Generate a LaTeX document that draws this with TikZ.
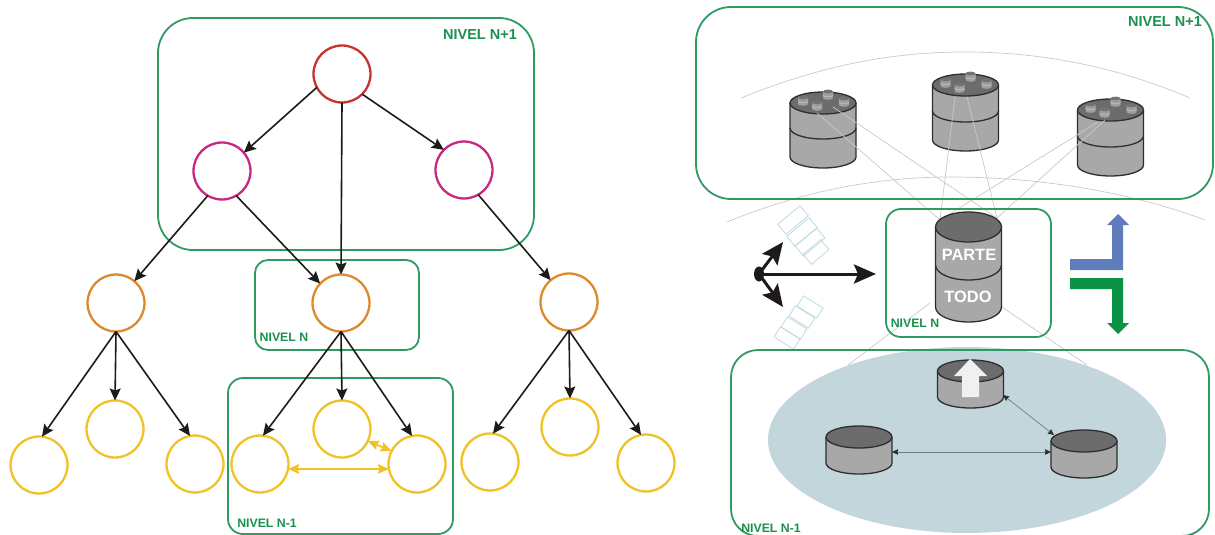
\documentclass[tikz,border=0pt]{standalone}
\usepackage{fontspec}
\setmainfont{Liberation Sans}
\usetikzlibrary{arrows.meta}
\definecolor{framegreen}{HTML}{2F9A63}
\definecolor{textgreen}{HTML}{1B9150}
\definecolor{cred}{HTML}{C8322F}
\definecolor{cmag}{HTML}{C8287E}
\definecolor{corange}{HTML}{DD8A2E}
\definecolor{cyellow}{HTML}{F0C226}
\definecolor{arrowk}{HTML}{1E1A1A}
\definecolor{cylbody}{HTML}{A8A8A8}
\definecolor{cyltop}{HTML}{6C6C6C}
\definecolor{cylline}{HTML}{2E2E2E}
\definecolor{poolblue}{HTML}{C2D6DC}
\definecolor{faint}{HTML}{C9C9C9}
\definecolor{panel}{HTML}{BDDADF}
\definecolor{upblue}{HTML}{5F7CBB}
\definecolor{downgreen}{HTML}{0A9245}
\definecolor{thingray}{HTML}{6F7F84}
\tikzset{
  frame/.style={draw=framegreen,line width=1.8pt,rounded corners=#1},
  lab/.style={text=textgreen,font=\fontsize{12.3}{14}\selectfont\bfseries,inner sep=0pt},
  biglab/.style={text=textgreen,font=\fontsize{14.5}{16}\selectfont\bfseries,inner sep=0pt},
  cyllab/.style={text=white,font=\fontsize{16.4}{18}\selectfont\bfseries,inner sep=0pt},
  ring/.style={circle,draw=#1,line width=2.3pt,minimum size=57pt,inner sep=0pt,outer sep=0pt},
  treearrow/.style={draw=arrowk,line width=1.6pt,-{Stealth[length=12pt,width=11pt,inset=2pt]}},
  yarrow/.style={draw=cyellow,line width=1.8pt,{Stealth[length=11pt,width=9.5pt,inset=1.5pt]}-{Stealth[length=11pt,width=9.5pt,inset=1.5pt]}},
  thinlink/.style={draw=faint,line width=.7pt},
  hub/.style={draw=arrowk,line width=3pt,-{Stealth[length=22pt,width=19pt,inset=4pt]}},
  thinarrow/.style={draw=thingray,line width=.7pt,{Stealth[length=6pt,width=5.5pt,inset=.5pt,color=cylline]}-{Stealth[length=6pt,width=5.5pt,inset=.5pt,color=cylline]}},
  panelbox/.style={draw=panel,line width=.8pt},
}
\newcommand\halfarc[4]{({#1-#3},#2) .. controls ({#1-#3},{#2+.5523*#4}) and ({#1-.5523*#3},{#2+#4}) .. (#1,{#2+#4}) .. controls ({#1+.5523*#3},{#2+#4}) and ({#1+#3},{#2+.5523*#4}) .. ({#1+#3},#2)}
\newcommand\cylbody[5]{%
  \fill[cylbody] ({#1-#4},#2) -- \halfarc{#1}{#3}{#4}{#5} -- ({#1+#4},#2) -- cycle;
  \draw[cylline,line width=1.3pt] ({#1-#4},#2) -- \halfarc{#1}{#3}{#4}{#5} -- ({#1+#4},#2);
  \draw[cylline,line width=1.3pt,fill=cyltop] (#1,#2) ellipse ({#4} and {#5});
}
\newcommand\cylband[4]{\draw[cylline,line width=1.3pt] \halfarc{#1}{#2}{#3}{#4};}
\newcommand\smallcyl[2]{%
  \fill[gray!75] ({#1-5},{#2-3.5}) -- \halfarc{#1}{#2+3}{5}{1.8} -- ({#1+5},{#2-3.5}) -- cycle;
  \fill[gray!90!black] (#1,{#2-3.5}) ellipse (5 and 1.9);
  \draw[gray!45,line width=.5pt] \halfarc{#1}{#2}{5}{1.8};
}
\newcommand\studs[2]{%
  \smallcyl{#1-20}{#2-2}\smallcyl{#1+5}{#2-8}\smallcyl{#1+21}{#2-1}\smallcyl{#1-6}{#2+3}%
}
\begin{document}
\begin{tikzpicture}[x=1pt,y=-1pt]
\useasboundingbox (0,0) rectangle (1215,535);

% ---------- LEFT: tree ----------
\node[ring=cred] (root) at (342,74) {};
\node[ring=cmag] (ml) at (222,171) {};
\node[ring=cmag] (mr) at (464,170) {};
\node[ring=corange] (ol) at (116,303) {};
\node[ring=corange] (oc) at (341,303) {};
\node[ring=corange] (or) at (569,302) {};
\node[ring=cyellow] (y1) at (39,465) {};
\node[ring=cyellow] (y2) at (115,429) {};
\node[ring=cyellow] (y3) at (195,464) {};
\node[ring=cyellow] (y4) at (260,464) {};
\node[ring=cyellow] (y5) at (342,429) {};
\node[ring=cyellow] (y6) at (417,464) {};
\node[ring=cyellow] (y7) at (490,462) {};
\node[ring=cyellow] (y8) at (570,427) {};
\node[ring=cyellow] (y9) at (646,463) {};

\draw[frame=35pt] (158,18) rectangle (534,250);
\draw[frame=13pt] (255,260) rectangle (419,350);
\draw[frame=15pt] (228,378) rectangle (453,534);
\node[biglab] (tn1) at (480,35) {NIVEL N+1};
\node[lab] (tn2) at (284,337) {NIVEL N};
\node[lab] (tn3) at (267,523) {NIVEL N-1};

\draw[treearrow] (root.208) -- (ml.40);
\draw[treearrow] (root.south) -- (oc.north);
\draw[treearrow] (root.-45) -- (mr.135);
\draw[treearrow] (ml.240) -- (ol.50);
\draw[treearrow] (ml.-60) -- (oc.137);
\draw[treearrow] (mr.-60) -- (or.130);
\foreach \a/\b/\e in {ol/y1/84,ol/y2/90,ol/y3/100,oc/y4/84,oc/y5/90,oc/y6/100,or/y7/84,or/y8/90,or/y9/100}
  \draw[treearrow] (\a.south) -- (\b.\e);
\draw[yarrow] (y4.-10) -- (y6.190);
\draw[yarrow] (y5.-25) -- (y6.153);

% ---------- RIGHT: background ----------
\fill[poolblue] (967,440) ellipse (199 and 93);
\draw[thinlink] (741,98) .. controls (820,66) and (890,52) .. (965,52) .. controls (1040,52) and (1115,66) .. (1190,98);
\draw[thinlink] (727,222) .. controls (800,192) and (875,177) .. (950,177) .. controls (1040,177) and (1130,192) .. (1205,220);

\coordinate (hl) at (940,220);
\coordinate (hr) at (997,218);
\coordinate (ll) at (930,303);
\coordinate (lr) at (1002,307);
\coordinate (pl) at (848,365);
\coordinate (pr) at (1087,365);

\foreach \x/\y/\w in {793/220/14.5,802/232/14.5,810/242/14,816/252/11.5}
  \draw[panelbox,shift={(\x,\y)},rotate=40] (-\w,-6.5) rectangle (\w,6.5);
\foreach \x/\y in {810/307,802/317,794/328,787/338}
  \draw[panelbox,shift={(\x,\y)},rotate=-32] (-11.5,-6) rectangle (11.5,6);

% cylinders of the upper level
\cylbody{823}{103}{157}{33}{11}\cylband{823}{128}{33}{11}\studs{823}{103}
\cylbody{965.5}{85}{140}{33}{11}\cylband{965.5}{111}{33}{11}\studs{965.5}{85}
\cylbody{1110.5}{110}{165}{33}{11}\cylband{1110.5}{136}{33}{11}\studs{1110.5}{110}

\coordinate (c1a) at (817,113);
\coordinate (c1b) at (833,107);
\coordinate (c2a) at (955,97);
\coordinate (c2b) at (967,97);
\coordinate (c3a) at (1098,122);
\coordinate (c3b) at (1105,120);
\draw[thinlink] (c1a) -- (hl);
\draw[thinlink] (c1b) -- (hr);
\draw[thinlink] (c2a) -- (hl);
\draw[thinlink] (c2b) -- (hr);
\draw[thinlink] (c3a) -- (hl);
\draw[thinlink] (c3b) -- (hr);
\draw[thinlink] (ll) -- (pl);
\draw[thinlink] (lr) -- (pr);

% frames
\draw[frame=35pt] (696,7) rectangle (1213,199);
\draw[frame=15pt] (886,209) rectangle (1051,337);
\draw[frame=27pt] (731,350) rectangle (1209,536);
\node[biglab] (tr1) at (1165,22) {NIVEL N+1};
\node[lab] (tr2) at (915,323) {NIVEL N};
\node[lab] (tr3) at (771,528) {NIVEL N-1};

% central cylinder
\cylbody{968.5}{227}{307}{33}{15}\cylband{968.5}{265}{33}{15}
\node[cyllab] (parte) at (969,255) {PARTE};
\node[cyllab] (todo) at (968,297) {TODO};

% lower cylinders
\cylbody{970.5}{371}{397}{33}{11}
\cylbody{859}{437}{463}{33}{11}
\cylbody{1084}{441}{467}{33}{11}
\fill[white!94!black] (970,359) -- (987,376) -- (979,376) -- (979,397) -- (962,397) -- (962,376) -- (954,376) -- cycle;
\coordinate (a1) at (1003,395);
\coordinate (a2) at (1054,435);
\coordinate (b1) at (892,452);
\coordinate (b2) at (1051,452);
\draw[thinarrow] (a1) -- (a2);
\draw[thinarrow] (b1) -- (b2);

% hub arrows
\coordinate (h0) at (759,274);
\coordinate (h1) at (876,274);
\coordinate (h2) at (783,242);
\coordinate (h3) at (783,307);
\draw[hub] (h0) -- (h1);
\draw[hub] (h0) -- (h2);
\draw[hub] (h0) -- (h3);
\fill[arrowk] (h0) ellipse (5 and 7.5);

% level arrows
\fill[upblue] (1070,259) -- (1112,259) -- (1112,225) -- (1107,225) -- (1118,214) -- (1129,225) -- (1123,225) -- (1123,270) -- (1070,270) -- cycle;
\fill[downgreen] (1070,278) -- (1123,278) -- (1123,323) -- (1129,323) -- (1118,334) -- (1107,323) -- (1112,323) -- (1112,289) -- (1070,289) -- cycle;
\end{tikzpicture}
\end{document}
